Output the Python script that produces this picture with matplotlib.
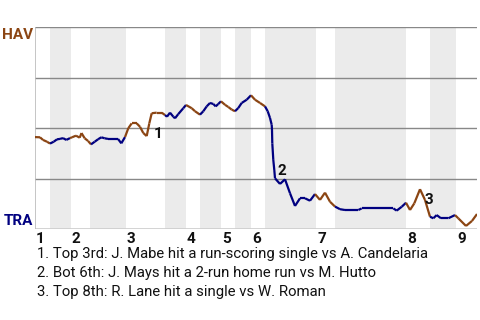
import numpy as np
import matplotlib.pyplot as plt
from matplotlib.collections import LineCollection

plt.rcParams['font.family'] = ['Roboto', 'DejaVu Sans']

# game progress (chart units) and HAV win probability (%)
progress = [0, 5, 8, 12, 15, 18.7, 22, 25, 28, 31.3, 35, 37, 41, 44.7, 46.5, 49.7, 53, 56,
            59.7, 63, 66.3, 69.7, 73, 78, 83, 86.3, 90, 93.3, 96.7, 101.7, 105, 108.3, 111.7,
            114.3, 116.7, 121.7, 126.7, 130, 132, 135, 138.3, 140, 143.3, 148.3, 151, 156.7,
            160, 165, 168.3, 171.7, 175, 178.3, 180.7, 183.3, 186, 190, 193.3, 196.7, 200,
            203.3, 206.7, 211.7, 216, 220, 225, 230, 232.7, 235, 236.7, 237, 237.3, 238.3,
            239.3, 240, 245, 250, 255, 260, 265, 270, 275, 280, 285, 290, 295, 300, 305, 310,
            323.3, 326.7, 340, 358.3, 361.7, 366.7, 371, 375, 379.3, 385, 390, 395, 398.3,
            401.7, 406, 413.3, 420, 423.3, 431, 437, 442]
wp_hav = [45.5, 45.4, 44.1, 43.2, 42.3, 43.2, 44.4, 44.6, 45.0, 44.1, 45.0, 45.4, 46.2, 45.2,
          47.5, 44.9, 43.6, 41.9, 43.2, 44.4, 45.4, 44.9, 44.6, 44.6, 44.6, 42.4, 45.5, 49.9,
          52.3, 52.3, 50.6, 47.5, 46.0, 52.3, 57.3, 57.6, 57.6, 56.4, 55.6, 57.6, 55.6, 54.8,
          56.9, 59.8, 61.4, 59.8, 58.3, 56.6, 58.3, 60.7, 62.4, 61.9, 60.7, 61.9, 63.2, 61.5,
          60.4, 59.1, 58.3, 59.9, 62.4, 64.0, 66.2, 64.0, 62.4, 60.7, 58.3, 55.0, 51.6, 49.0,
          42.4, 34.2, 29.2, 25.1, 22.3, 24.6, 17.7, 11.4, 15.2, 15.2, 14.0, 17.3, 14.4, 18.0,
          13.5, 11.1, 9.8, 9.4, 9.4, 10.2, 10.2, 10.2, 9.1, 11.0, 13.0, 9.4, 12.7, 19.7, 14.4,
          6.1, 5.3, 6.9, 5.3, 5.3, 6.9, 5.3, 1.5, 4.0, 7.4]

# start of each half inning (top 1, bot 1, top 2, ...), end of game
half_starts = [0, 15, 36, 55, 91, 130, 151, 165, 186, 200, 216, 230, 281, 300, 371, 395, 421]
game_end = 442
innings = ['1', '2', '3', '4', '5', '6', '7', '8', '9']

# key plays: (index into the arrays, note)
events = [(33, '1. Top 3rd: J. Mabe hit a run-scoring single vs A. Candelaria'),
          (71, '2. Bot 6th: J. Mays hit a 2-run home run vs M. Hutto'),
          (97, '3. Top 8th: R. Lane hit a single vs W. Roman')]

brown = '#8b4513'
navy = '#000080'

fig = plt.figure(figsize=(4.8, 3.2), dpi=100)
ax = fig.add_axes([35/480, 91/320, 442/480, 202/320])
ax.set_xlim(0, game_end)
ax.set_ylim(0, 100)

edges = half_starts + [game_end]
for i in range(len(half_starts)):
    if i % 2 == 1:
        ax.axvspan(edges[i], edges[i+1], color='#ebebeb', lw=0, zorder=0)

for yv in [25, 50, 75, 100]:
    ax.axhline(yv, color='#888888', lw=1, zorder=1)
ax.axhline(0, color='#cccccc', lw=1.2, zorder=1)
ax.axvline(0, color='#bbbbbb', lw=1.2, zorder=1)

pts = np.column_stack([progress, wp_hav])
segs = np.stack([pts[:-1], pts[1:]], axis=1)
mids = (pts[:-1, 0] + pts[1:, 0]) / 2
half_idx = np.searchsorted(half_starts, mids, side='right') - 1
colors = [brown if h % 2 == 0 else navy for h in half_idx]
lc = LineCollection(segs, colors=colors, linewidths=1.6, zorder=3)
ax.add_collection(lc)

for n, (idx, note) in enumerate(events):
    ax.annotate(str(n + 1), (progress[idx], wp_hav[idx]), xytext=(3, -8),
                textcoords='offset points', fontsize=11, fontweight='bold',
                ha='left', va='center', color='#111111', zorder=4)
    fig.text(37/480, 1 - (254 + 19*n)/320, note, fontsize=10.7, va='center', ha='left',
             color='#111111')

for k, lab in enumerate(innings):
    ax.text(half_starts[2*k] + 1, -0.015, lab, transform=ax.get_xaxis_transform(),
            ha='left', va='top', fontsize=11, fontweight='bold', color='#111111')

fig.text(33/480, 1 - 35/320, 'HAV', color=brown, fontsize=11, fontweight='bold',
         ha='right', va='center')
fig.text(33/480, 1 - 221/320, 'TRA', color=navy, fontsize=11, fontweight='bold',
         ha='right', va='center')

for s in ax.spines.values():
    s.set_visible(False)
ax.set_xticks([])
ax.set_yticks([])

fig.savefig('out.png', dpi=100)
